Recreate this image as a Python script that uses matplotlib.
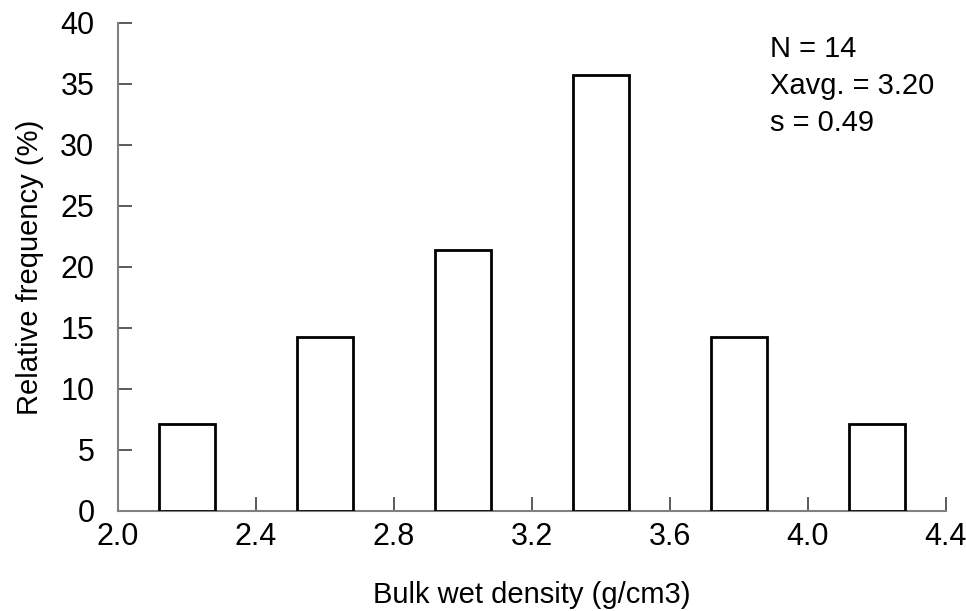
import matplotlib.pyplot as plt

plt.rcParams['font.family'] = ['Liberation Sans', 'DejaVu Sans']

centers = [2.2, 2.6, 3.0, 3.4, 3.8, 4.2]
freq = [7.14, 14.29, 21.43, 35.71, 14.29, 7.14]
xticks = [2.0, 2.4, 2.8, 3.2, 3.6, 4.0, 4.4]
yticks = [0, 5, 10, 15, 20, 25, 30, 35, 40]

fig = plt.figure(figsize=(9.66, 6.11), dpi=100)
ax = fig.add_axes([0.1222, 0.1637, 0.857, 0.7987])

ax.bar(centers, freq, width=0.162, color='white', edgecolor='black', linewidth=2, zorder=3)

ax.set_xlim(2.0, 4.4)
ax.set_ylim(0, 40)
ax.set_xticks(xticks)
ax.set_xticklabels(['%.1f' % v for v in xticks])
ax.set_yticks(yticks)
for s in ['top', 'right']:
    ax.spines[s].set_visible(False)
for s in ['left', 'bottom']:
    ax.spines[s].set_color('#808080')
    ax.spines[s].set_linewidth(1.5)
ax.tick_params(direction='in', length=10, width=1.2, color='#404040', labelsize=22)
ax.tick_params(axis='x', pad=8)
ax.tick_params(axis='y', pad=17)

ax.set_xlabel('Bulk wet density (g/cm3)', fontsize=21, labelpad=21)
ax.set_ylabel('Relative frequency (%)', fontsize=21, labelpad=12)

ax.text(0.787, 0.975, 'N = 14\nXavg. = 3.20\ns = 0.49', transform=ax.transAxes,
        fontsize=21, va='top', ha='left', linespacing=1.4)

fig.savefig('out.png', dpi=100)
